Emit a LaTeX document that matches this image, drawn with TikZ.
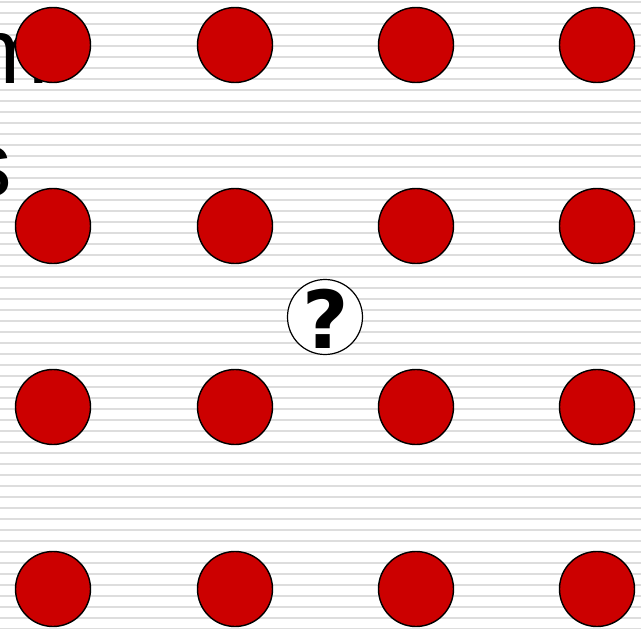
\documentclass[tikz,border=0pt]{standalone}
\usepackage{fontspec}
\setmainfont{Liberation Sans}
\newfontfamily\qfont{DejaVu Sans}
\definecolor{dotred}{HTML}{CC0000}
\definecolor{stripe}{HTML}{DDDDDD}
\tikzset{
  dot/.style={circle, draw=black, line width=1.4pt, fill=dotred, minimum size=75pt, inner sep=0pt},
  qdot/.style={circle, draw=black, line width=1.2pt, fill=white, minimum size=75pt, inner sep=0pt},
  bgtext/.style={anchor=base west, inner sep=0pt, font=\fontsize{93}{100}\selectfont}
}
\begin{document}
\begin{tikzpicture}[x=1pt, y=-1pt]
\useasboundingbox (0,0) rectangle (641,629);
\clip (0,0) rectangle (641,629);
\fill[white] (0,0) rectangle (641,629);
\foreach \k in {0,...,57} {
  \draw[stripe, line width=2.4pt] (0,{2+11*\k}) -- (641,{2+11*\k});
}
\node[bgtext] (tm) at (-29,83) {m};
\node[bgtext] (ts) at (-35,196) {s};
\foreach \i/\x in {1/53,2/235,3/416,4/597} {
  \foreach \j/\y in {1/45,2/226,3/407,4/589} {
    \node[dot] (d\i\j) at (\x,\y) {};
  }
}
\node[qdot] (q) at (325,317) {};
\node[inner sep=0pt] (qm) at (326,319) {\qfont\bfseries\fontsize{80}{80}\selectfont ?};
\end{tikzpicture}
\end{document}
